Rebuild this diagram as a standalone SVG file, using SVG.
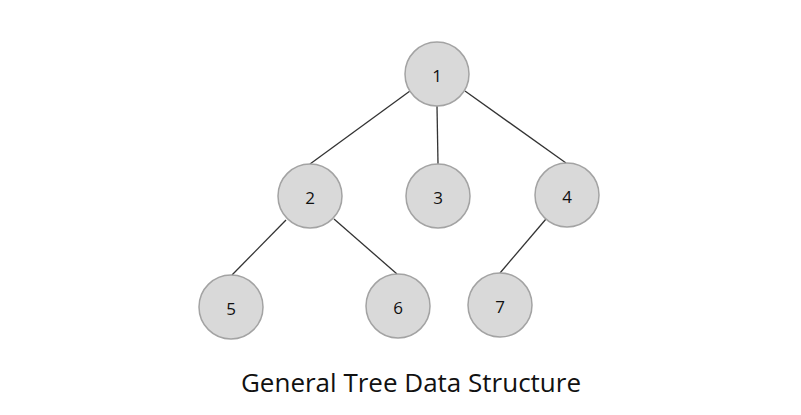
<svg xmlns="http://www.w3.org/2000/svg" width="801" height="415" viewBox="0 0 801 415">
  <style>
    .node circle { fill: #d9d9d9; stroke: #a3a3a3; stroke-width: 1.5; }
    .node text { font-family: "Open Sans", "Liberation Sans", sans-serif; font-size: 17px; fill: #111111; text-anchor: middle; dominant-baseline: central; }
    .edge { stroke: #333333; stroke-width: 1.3; fill: none; }
    .title { font-family: "Open Sans", "Liberation Sans", sans-serif; font-size: 26px; fill: #111111; text-anchor: middle; }
  </style>
  <rect width="801" height="415" fill="#ffffff"/>
  <g id="connectors">
    <line class="edge" x1="410" y1="91" x2="310" y2="164"/>
    <line class="edge" x1="437" y1="106" x2="438" y2="164"/>
    <line class="edge" x1="465" y1="91" x2="566" y2="163"/>
    <line class="edge" x1="286" y1="220" x2="232" y2="275"/>
    <line class="edge" x1="334" y1="219" x2="397" y2="274"/>
    <line class="edge" x1="546" y1="219" x2="500" y2="273"/>
  </g>
  <g id="node1" class="node"><circle cx="437" cy="74" r="32"/><text x="437" y="75">1</text></g>
  <g id="node2" class="node"><circle cx="310" cy="196" r="32"/><text x="310" y="197">2</text></g>
  <g id="node3" class="node"><circle cx="438" cy="196" r="32"/><text x="438" y="197">3</text></g>
  <g id="node4" class="node"><circle cx="567" cy="195" r="32"/><text x="567" y="196">4</text></g>
  <g id="node5" class="node"><circle cx="231" cy="307" r="32"/><text x="231" y="308">5</text></g>
  <g id="node6" class="node"><circle cx="398" cy="306" r="32"/><text x="398" y="307">6</text></g>
  <g id="node7" class="node"><circle cx="500" cy="305" r="32"/><text x="500" y="306">7</text></g>
  <text class="title" x="411" y="392">General Tree Data Structure</text>
</svg>
